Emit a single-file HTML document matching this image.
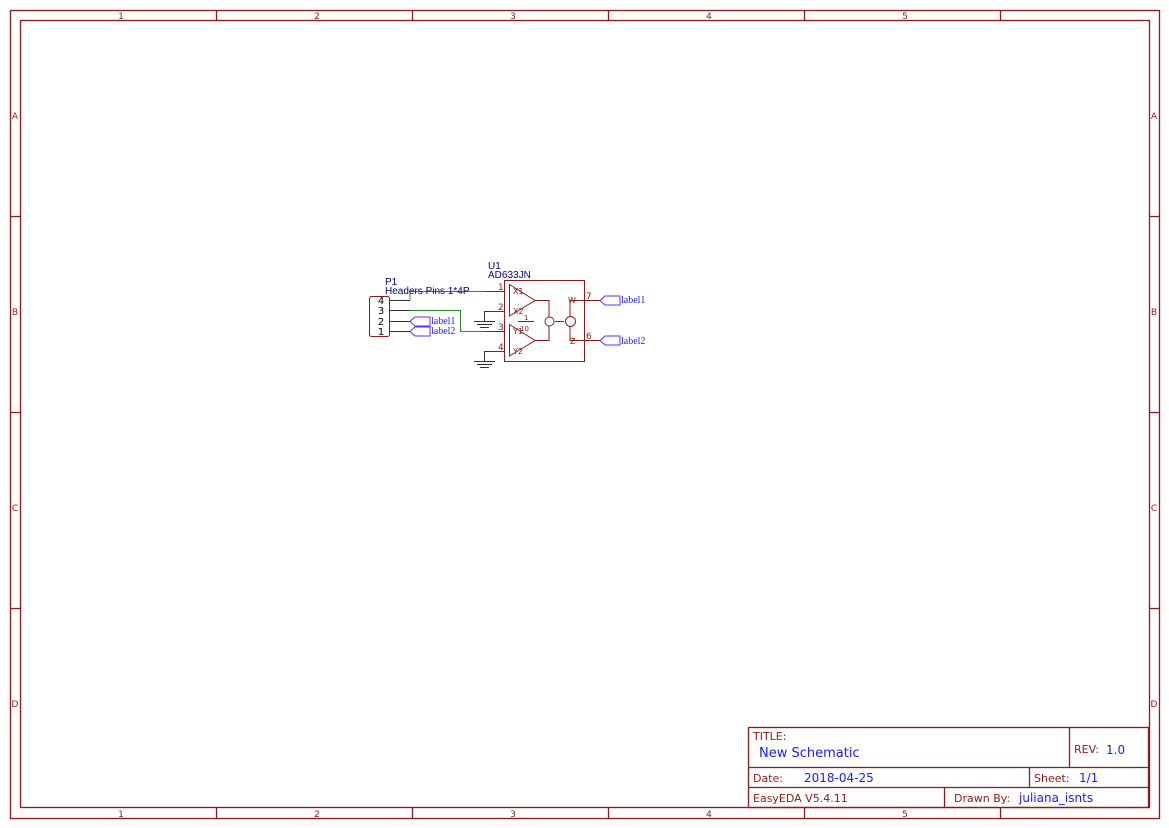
<!DOCTYPE html>
<html><head><style>body{margin:0;background:#fff}svg{display:block}</style></head><body>
<svg width="1169" height="828" xmlns="http://www.w3.org/2000/svg" font-family="DejaVu Sans, Liberation Sans, sans-serif">
<g stroke="#8b1a1a" fill="none" stroke-width="1.3">
<rect x="10.5" y="10.5" width="1149" height="808"/>
<rect x="20.5" y="20.5" width="1129" height="787"/>
<path d="M216.5 10v10M412.5 10v10M608.5 10v10M804.5 10v10M1000.5 10v10M216.5 808v10M412.5 808v10M608.5 808v10M804.5 808v10M1000.5 808v10M10 216.5h10M10 412.5h10M10 608.5h10M1149 216.5h10M1149 412.5h10M1149 608.5h10"/>
</g>
<g fill="#8b1a1a" font-size="9" text-anchor="middle">
<text x="121" y="19">1</text><text x="317" y="19">2</text><text x="513" y="19">3</text><text x="709" y="19">4</text><text x="905" y="19">5</text>
<text x="121" y="817">1</text><text x="317" y="817">2</text><text x="513" y="817">3</text><text x="709" y="817">4</text><text x="905" y="817">5</text>
<text x="15" y="119">A</text><text x="15" y="315">B</text><text x="15" y="511">C</text><text x="15" y="707">D</text>
<text x="1154" y="119">A</text><text x="1154" y="315">B</text><text x="1154" y="511">C</text><text x="1154" y="707">D</text>
</g>
<g stroke="#8b1a1a" fill="none" stroke-width="1.3">
<rect x="748.5" y="727.5" width="400" height="80"/>
<path d="M748 767.5h401M748 787.5h401M1069.5 727v40M1029.5 767v20M944.5 787v20"/>
</g>
<g font-size="11" fill="#8b1a1a">
<text x="753" y="740">TITLE:</text><text x="1074" y="753">REV:</text>
<text x="753" y="782">Date:</text><text x="1034" y="782">Sheet:</text>
<text x="753" y="802">EasyEDA V5.4.11</text><text x="954" y="802">Drawn By:</text>
</g>
<g fill="#1a1aff">
<text x="759" y="757" font-size="13">New Schematic</text>
<text x="1106" y="754" font-size="12">1.0</text>
<text x="804" y="782" font-size="12">2018-04-25</text>
<text x="1079" y="782" font-size="12">1/1</text>
<text x="1019" y="802" font-size="12">juliana_isnts</text>
</g>
<g stroke="#2e8b2e" fill="none" stroke-width="1">
<path d="M410 300.5V291.5H485M410 310.5H460.5V331.5H485"/>
</g>
<g stroke="#333" fill="none" stroke-width="1">
<path d="M389 300.5H410M389 310.5H410M389 321.5H410M389 331.5H410"/>
<path d="M485 311.5H484.5V321M474 321.5h21M477 324.5h15M480 327.5h9"/>
<path d="M485 351.5H484.5V361M474 361.5h21M477 364.5h15M480 367.5h9"/>
</g>
<rect x="369.5" y="296.5" width="20" height="40" rx="2" fill="none" stroke="#8b1a1a"/>
<g font-size="10" fill="#000" text-anchor="middle"><text x="381" y="304">4</text><text x="381" y="314">3</text><text x="381" y="325">2</text><text x="381" y="335">1</text></g>
<g fill="#000080" font-size="10" font-family="Liberation Sans, sans-serif"><text x="385" y="285">P1</text><text x="385" y="294">Headers  Pins 1*4P</text><text x="488" y="269">U1</text><text x="488" y="278">AD633JN</text></g>
<g stroke="#5a2dff" fill="none">
<path d="M410 321.5l5-4.5h15v9h-15z M410 331.5l5-4.5h15v9h-15z"/>
<path d="M600 300.5l5-4.5h15v9h-15z M600 340.5l5-4.5h15v9h-15z"/>
</g>
<g fill="#1a1aff" font-family="Liberation Serif, serif" font-size="10"><text x="431" y="324">label1</text><text x="431" y="334">label2</text><text x="621" y="303">label1</text><text x="621" y="344">label2</text></g>
<g stroke="#8b1a1a" fill="none">
<rect x="504.5" y="280.5" width="80" height="81"/>
<path d="M485 291.5h19M485 311.5h19M485 331.5h19M485 351.5h19M585 300.5h15M585 340.5h15"/>
<path d="M509.5 284.5L535 300.5L509.5 316z M509.5 324.5L535 340.5L509.5 356z"/>
<path d="M535 300.5h14v16M535 340.5h14v-15M518 321.5h16M555 321.5h9M570 316V300.5h15M570 326V340.5h15"/>
<circle cx="549.5" cy="321.5" r="4.5"/><circle cx="570.5" cy="321.5" r="5"/>
</g>
<g fill="#8b1a1a" font-size="9">
<text x="498" y="290">1</text><text x="498" y="310">2</text><text x="498" y="330">3</text><text x="498" y="350">4</text>
<text x="586" y="299">7</text><text x="586" y="339">6</text>
<text x="513" y="294" font-size="8">X1</text><text x="513" y="314" font-size="8">X2</text>
<text x="513" y="334" font-size="8">Y1</text><text x="513" y="354" font-size="8">Y2</text>
<text x="568" y="303" font-size="8">W</text><text x="570" y="344" font-size="8">Z</text>
<text x="524" y="320" font-size="7">1</text><text x="520" y="331" font-size="7">10</text>
</g>
</svg>
</body></html>
